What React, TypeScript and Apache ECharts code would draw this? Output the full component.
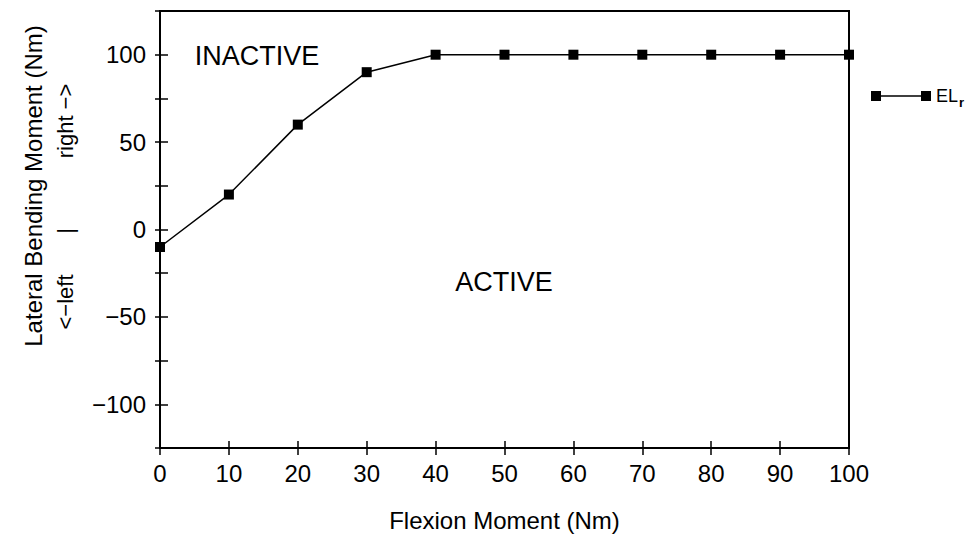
import React, { useEffect, useRef } from "react";
import * as echarts from "echarts";

const flexion = [0, 10, 20, 30, 40, 50, 60, 70, 80, 90, 100];
const lateral = [-10, 20, 60, 90, 100, 100, 100, 100, 100, 100, 100];
const seriesName = "EL_r";
const xTitle = "Flexion Moment (Nm)";
const yTitle = "Lateral Bending Moment (Nm)";
const yDir = ["<\u2212left", "|", "right \u2212>"];
const regionLabels = ["INACTIVE", "ACTIVE"];

const FONT = "Liberation Sans";

export default function App() {
  const ref = useRef<HTMLDivElement>(null);
  useEffect(() => {
    if (!ref.current) return;
    const chart = echarts.init(ref.current, null, { renderer: "svg" });
    const fmt = (v: number) => (v < 0 ? "\u2212" + Math.abs(v) : String(v));
    const xBase = { type: "value", min: 0, max: 100, interval: 10 };
    const yBase = { type: "value", min: -125, max: 125, interval: 25 };
    chart.setOption({
      animation: false,
      backgroundColor: "#fff",
      textStyle: { fontFamily: FONT, color: "#000" },
      grid: {
        left: 160,
        right: 122,
        top: 11,
        bottom: 94,
        show: true,
        borderColor: "#000",
        borderWidth: 2,
      },
      legend: {
        left: 866,
        top: 82,
        itemWidth: 60,
        itemHeight: 10,
        data: [
          {
            name: seriesName,
            icon: "path://M0,0H10V10H0Z M10,4.3H50V5.7H10Z M50,0H60V10H50Z",
          },
        ],
        formatter: () => "{a|EL}{b|r}",
        textStyle: {
          color: "#000",
          fontFamily: FONT,
          rich: {
            a: { fontSize: 18, color: "#000", fontFamily: FONT },
            b: { fontSize: 13, color: "#000", fontFamily: FONT, fontWeight: "bold", padding: [12, 0, 0, 1] },
          },
        },
      },
      xAxis: [
        {
          ...xBase,
          name: xTitle,
          nameLocation: "middle",
          nameGap: 60,
          nameTextStyle: { fontSize: 24, color: "#000", fontFamily: FONT },
          axisLine: { onZero: false, lineStyle: { color: "#000", width: 2 } },
          axisTick: { inside: true, length: 7, lineStyle: { color: "#000", width: 1.5 } },
          axisLabel: { fontSize: 24, color: "#000", margin: 13, fontFamily: FONT },
          splitLine: { show: false },
        },
        {
          ...xBase,
          position: "bottom",
          axisLine: { show: false, onZero: false },
          axisTick: { inside: false, length: 7, lineStyle: { color: "#000", width: 1.5 } },
          axisLabel: { show: false },
          splitLine: { show: false },
        },
      ],
      yAxis: [
        {
          ...yBase,
          axisLine: { onZero: false, lineStyle: { color: "#000", width: 2 } },
          axisTick: { inside: true, length: 8, lineStyle: { color: "#000", width: 1.5 } },
          axisLabel: {
            fontSize: 24,
            color: "#000",
            margin: 14,
            fontFamily: FONT,
            showMinLabel: false,
            showMaxLabel: false,
            formatter: (v: number) => (v % 50 === 0 ? fmt(v) : ""),
          },
          splitLine: { show: false },
        },
        {
          ...yBase,
          position: "left",
          axisLine: { show: false, onZero: false },
          axisTick: { inside: false, length: 5, lineStyle: { color: "#000", width: 1.5 } },
          axisLabel: { show: false },
          splitLine: { show: false },
        },
      ],
      graphic: [
        {
          type: "text",
          x: 33,
          y: 186,
          rotation: Math.PI / 2,
          style: {
            text: yTitle,
            fontSize: 24,
            fontFamily: FONT,
            fill: "#000",
            align: "center",
            verticalAlign: "middle",
          },
        },
        {
          type: "text",
          x: 65,
          y: 302,
          rotation: Math.PI / 2,
          style: { text: yDir[0], fontSize: 22, fontFamily: FONT, fill: "#000", align: "center", verticalAlign: "middle" },
        },
        {
          type: "text",
          x: 65,
          y: 231,
          rotation: Math.PI / 2,
          style: { text: yDir[1], fontSize: 22, fontFamily: FONT, fill: "#000", align: "center", verticalAlign: "middle" },
        },
        {
          type: "text",
          x: 65,
          y: 121,
          rotation: Math.PI / 2,
          style: { text: yDir[2], fontSize: 22, fontFamily: FONT, fill: "#000", align: "center", verticalAlign: "middle" },
        },
        {
          type: "text",
          x: 257,
          y: 56,
          style: { text: regionLabels[0], fontSize: 27, fontFamily: FONT, fill: "#000", align: "center", verticalAlign: "middle" },
        },
        {
          type: "text",
          x: 504,
          y: 282,
          style: { text: regionLabels[1], fontSize: 27, fontFamily: FONT, fill: "#000", align: "center", verticalAlign: "middle" },
        },
      ],
      series: [
        {
          name: seriesName,
          type: "line",
          xAxisIndex: 0,
          yAxisIndex: 0,
          data: flexion.map((x, i) => [x, lateral[i]]),
          symbol: "rect",
          symbolSize: 10,
          clip: false,
          lineStyle: { color: "#000", width: 1.5 },
          itemStyle: { color: "#000" },
        },
      ],
    });
    return () => chart.dispose();
  }, []);
  return (
    <div
      ref={ref}
      style={{ position: "fixed", left: 0, top: 0, width: 971, height: 542 }}
    />
  );
}
